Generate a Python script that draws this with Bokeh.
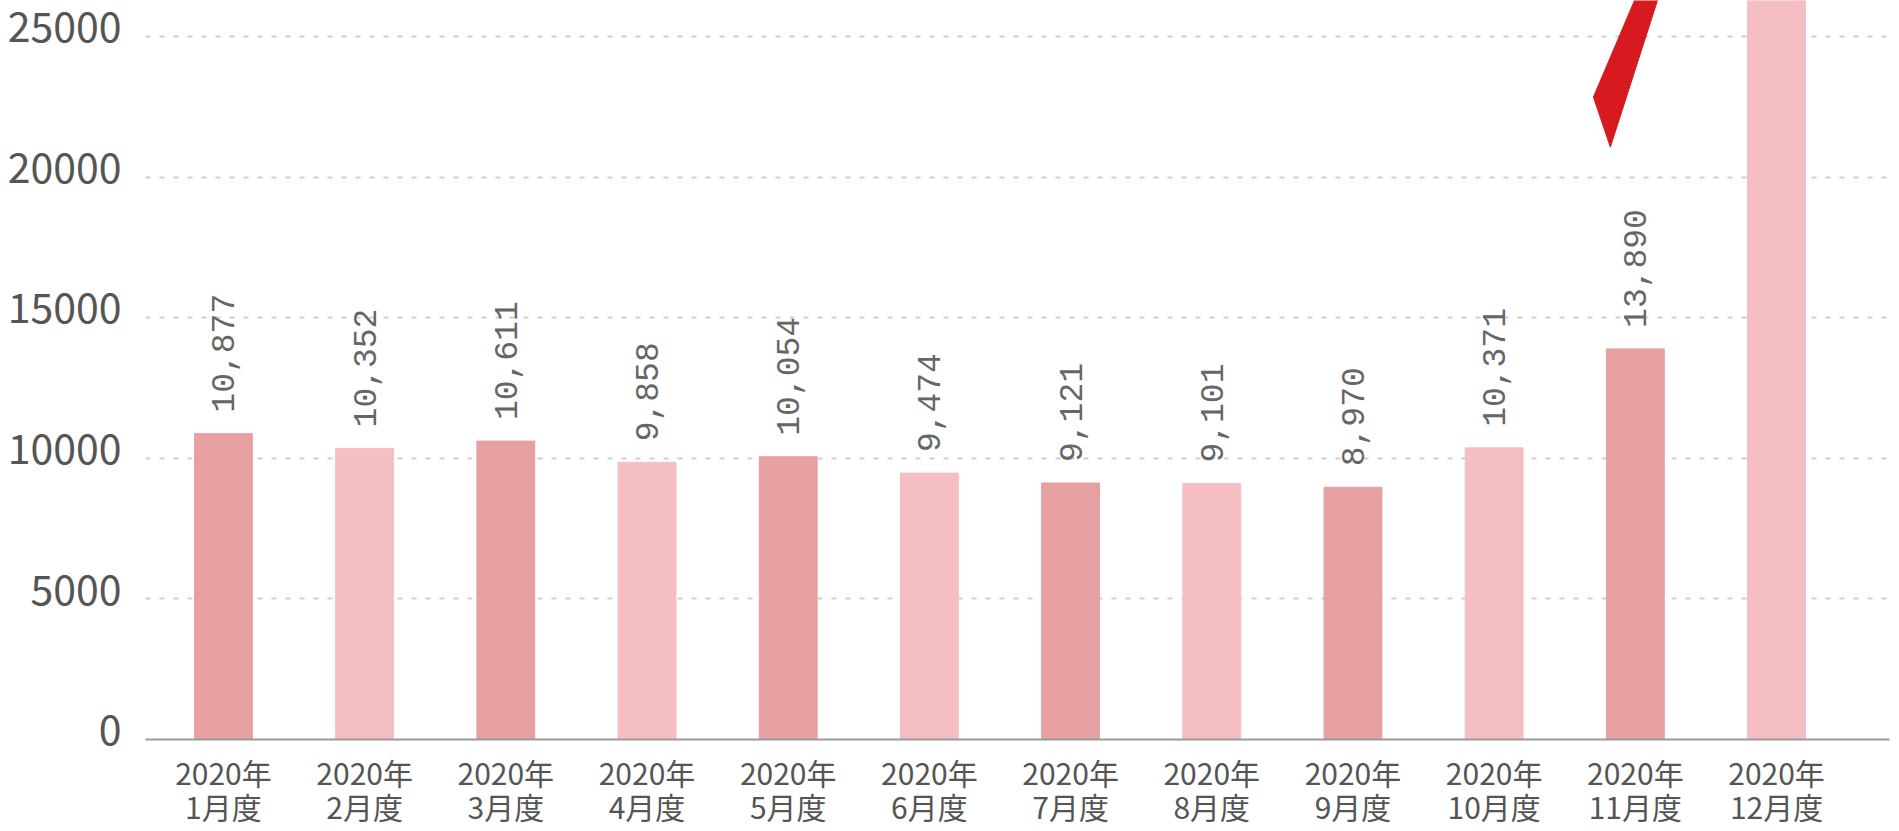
from math import pi
from bokeh.plotting import figure
from bokeh.models import ColumnDataSource, Range1d, FixedTicker, LinearAxis
from bokeh.core.properties import value
from bokeh.embed import file_html
from bokeh.resources import INLINE

# ---- data ----
x_labels = ["2020年\n1月度", "2020年\n2月度", "2020年\n3月度", "2020年\n4月度",
            "2020年\n5月度", "2020年\n6月度", "2020年\n7月度", "2020年\n8月度",
            "2020年\n9月度", "2020年\n10月度", "2020年\n11月度", "2020年\n12月度"]
values = [10877, 10352, 10611, 9858, 10054, 9474, 9121, 9101, 8970, 10371, 13890, 31000]
y_ticks = [0, 5000, 10000, 15000, 20000, 25000]
bar_colors = ["#E6A0A1", "#F5BEC2"]

# decorative red arrow tail (data units)
arrow_x = [9.703, 9.823, 10.177, 10.021]
arrow_y = [22847, 21067, 26600, 26600]

Y_TOP = 26280
LABEL_SHIFT = 330  # lifts the y tick labels slightly above their grid lines

xs = list(range(len(values)))
src = ColumnDataSource(dict(
    x=xs,
    v=values,
    c=[bar_colors[i % 2] for i in xs],
    lbl=[f"{v:,}" for v in values],
))

p = figure(width=1891, height=831,
           x_range=Range1d(-0.552, 11.80), y_range=Range1d(0, Y_TOP),
           output_backend="svg", toolbar_location=None,
           min_border_left=145, min_border_right=2,
           min_border_top=0, min_border_bottom=92)
p.outline_line_color = None
p.background_fill_color = "white"
p.border_fill_color = "white"
p.extra_y_ranges = {"lab": Range1d(-LABEL_SHIFT, Y_TOP - LABEL_SHIFT)}

p.vbar(x="x", top="v", width=0.41, color="c", source=src)
p.text(x="x", y="v", text="lbl", angle=pi / 2, text_align="left",
       text_baseline="middle", y_offset=-21, source=src,
       text_font=value("Liberation Mono"), text_font_size="33px",
       text_color="#666666")
p.patch(arrow_x, arrow_y, color="#D71A1F", line_color="#D71A1F")

# grid
p.xgrid.visible = False
p.ygrid.grid_line_color = "#cfcfcf"
p.ygrid.grid_line_dash = "5 9"
p.ygrid.grid_line_width = 2
p.ygrid.ticker = FixedTicker(ticks=y_ticks)

# x axis
p.xaxis.ticker = FixedTicker(ticks=xs)
p.xaxis.major_label_overrides = {i: lab for i, lab in zip(xs, x_labels)}
p.xaxis.major_tick_line_color = None
p.xaxis.minor_tick_line_color = None
p.xaxis.axis_line_color = "#9a9a9a"
p.xaxis.axis_line_width = 2
p.xaxis.major_label_text_font = "Noto Sans CJK JP"
p.xaxis.major_label_text_font_size = "30px"
p.xaxis.major_label_text_line_height = 0.78
p.xaxis.major_label_text_color = "#555555"
p.xaxis.major_label_standoff = 4

# y axis (labels on a slightly shifted range)
p.yaxis.visible = False
yax = LinearAxis(y_range_name="lab", ticker=FixedTicker(ticks=y_ticks))
yax.major_label_overrides = {t: str(t) for t in y_ticks}
yax.axis_line_color = None
yax.major_tick_line_color = None
yax.minor_tick_line_color = None
yax.major_label_text_font = "Noto Sans CJK JP"
yax.major_label_text_font_size = "41px"
yax.major_label_text_color = "#555555"
yax.major_label_standoff = 18
p.add_layout(yax, "left")

open("out.html", "w").write(file_html(p, INLINE))
